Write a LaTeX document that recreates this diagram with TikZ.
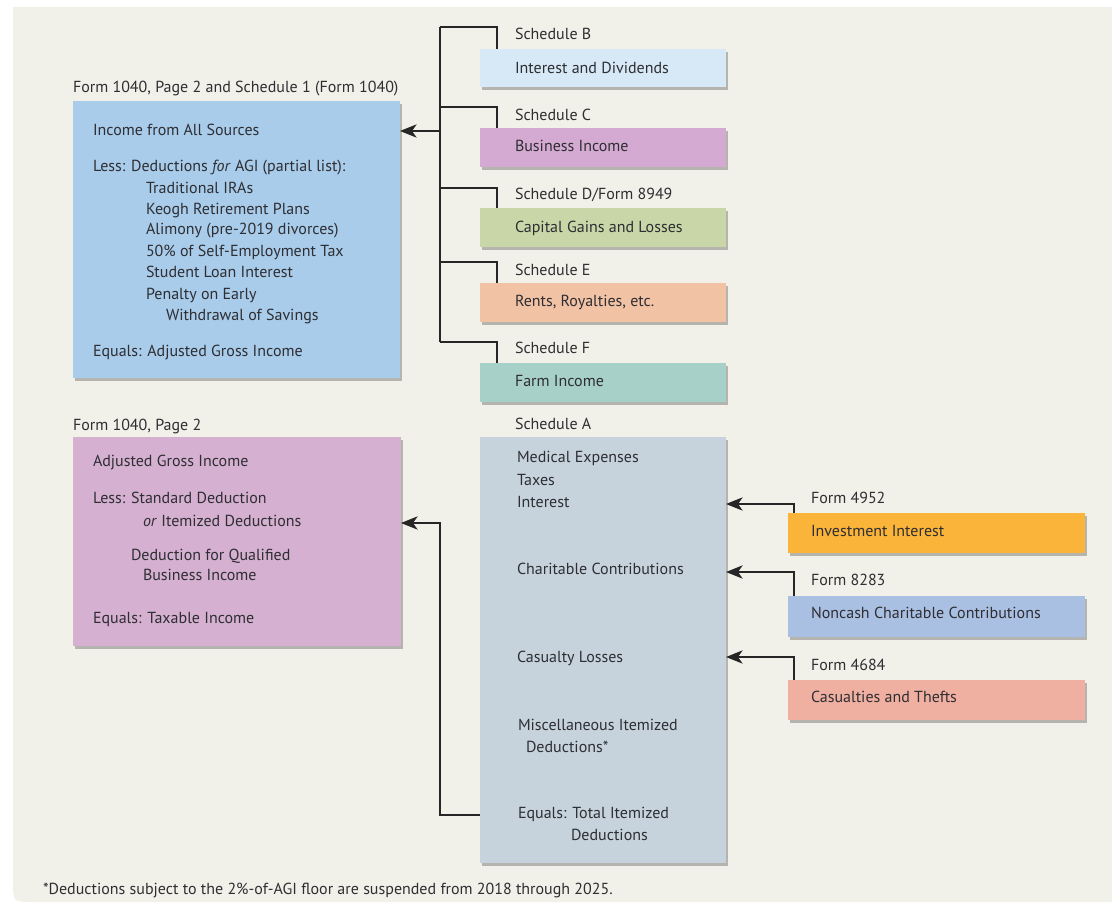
\documentclass[tikz,border=0pt]{standalone}
\usepackage{fontspec}
\setmainfont{PT Sans}
\usetikzlibrary{arrows.meta,shadows,fit,calc}
\definecolor{bgc}{HTML}{F2F1E9}
\definecolor{txtc}{HTML}{2E2E33}
\definecolor{cIncome}{HTML}{A8CCEA}
\definecolor{cTaxable}{HTML}{D5B0D1}
\definecolor{cB}{HTML}{D7E8F6}
\definecolor{cC}{HTML}{D4AAD2}
\definecolor{cD}{HTML}{C9D6A7}
\definecolor{cE}{HTML}{F2C2A5}
\definecolor{cF}{HTML}{A7D0C8}
\definecolor{cA}{HTML}{C6D3DD}
\definecolor{cInv}{HTML}{FBB43A}
\definecolor{cNon}{HTML}{AAC0E3}
\definecolor{cCas}{HTML}{F0B0A1}
\begin{document}
\begin{tikzpicture}[x=0.75pt,y=-0.75pt,
  box/.style={inner sep=0pt, outer sep=0pt,
    drop shadow={shadow xshift=1.8pt, shadow yshift=-2pt, opacity=0.25, fill=black}},
  txt/.style={anchor=mid west, inner sep=0pt, outer sep=0pt, text=txtc,
    font=\fontsize{12}{14}\selectfont},
  conn/.style={line width=1pt, draw=black!85},
  arr/.style={conn, -{Stealth[length=12.5pt, width=10pt, inset=3.5pt]}}]
\useasboundingbox (0,0) rectangle (1112,902);
% background panel
\fill[bgc] (13,7) -- (1112,7) -- (1112,902) -- (33,902) .. controls (13,902) .. (13,882) -- cycle;

% ---- top-left box
\node[txt] (t1) at (73,89) {Form 1040, Page 2 and Schedule 1 (Form 1040)};
\node[box, fill=cIncome, fit={(73,101) (400,378)}] (incomeBox) {};
\node[txt] (i1) at (93,132) {Income from All Sources};
\node[txt] (i2) at (93,168) {Less: Deductions \textit{for} AGI (partial list):};
\node[txt] (i3) at (146,190) {Traditional IRAs};
\node[txt] (i4) at (146,211) {Keogh Retirement Plans};
\node[txt] (i5) at (146,231) {Alimony (pre-2019 divorces)};
\node[txt] (i6) at (146,253) {50\% of Self-Employment Tax};
\node[txt] (i7) at (146,274) {Student Loan Interest};
\node[txt] (i8) at (146,296) {Penalty on Early};
\node[txt] (i9) at (166,317) {Withdrawal of Savings};
\node[txt] (i10) at (93,353) {Equals: Adjusted Gross Income};

% ---- schedules
\node[txt] (lB) at (515,36) {Schedule B};
\node[box, fill=cB, fit={(480,49) (726,87)}] (schB) {};
\node[txt] (xB) at (515,70) {Interest and Dividends};
\node[txt] (lC) at (515,117) {Schedule C};
\node[box, fill=cC, fit={(480,128) (726,167)}] (schC) {};
\node[txt] (xC) at (515,148) {Business Income};
\node[txt] (lD) at (515,196) {Schedule D/Form 8949};
\node[box, fill=cD, fit={(480,208) (726,247)}] (schD) {};
\node[txt] (xD) at (515,229) {Capital Gains and Losses};
\node[txt] (lE) at (515,272) {Schedule E};
\node[box, fill=cE, fit={(480,283) (726,322)}] (schE) {};
\node[txt] (xE) at (515,303) {Rents, Royalties, etc.};
\node[txt] (lF) at (515,350) {Schedule F};
\node[box, fill=cF, fit={(480,363) (726,402)}] (schF) {};
\node[txt] (xF) at (515,383) {Farm Income};

% tree connectors
\coordinate (jB) at (440,27);
\coordinate (jC) at (440,107);
\coordinate (jD) at (440,188);
\coordinate (jE) at (440,262);
\coordinate (jF) at (440,342);
\coordinate (jI) at (440,131);
\coordinate (dx) at (497,0);
\draw[conn] (schB.north -| dx) |- (jB);
\draw[conn] (schC.north -| dx) |- (jC);
\draw[conn] (schD.north -| dx) |- (jD);
\draw[conn] (schE.north -| dx) |- (jE);
\draw[conn] (schF.north -| dx) |- (jF);
\draw[conn] (jB) -- (jF);
\draw[arr] (jI) -- (incomeBox.east |- jI);

% ---- bottom-left box
\node[txt] (t2) at (73,427) {Form 1040, Page 2};
\node[box, fill=cTaxable, fit={(73,437) (401,646)}] (taxBox) {};
\node[txt] (p1) at (93,463) {Adjusted Gross Income};
\node[txt] (p2) at (93,500) {Less: Standard Deduction};
\node[txt] (p3) at (143,523) {\textit{or} Itemized Deductions};
\node[txt] (p4) at (131,557) {Deduction for Qualified};
\node[txt] (p5) at (143,577) {Business Income};
\node[txt] (p6) at (93,620) {Equals: Taxable Income};

% ---- schedule A
\node[txt] (lA) at (515,426) {Schedule A};
\node[box, fill=cA, fit={(480,437) (726,863)}] (schA) {};
\node[txt] (a1) at (517,459) {Medical Expenses};
\node[txt] (a2) at (517,482) {Taxes};
\node[txt] (a3) at (517,504) {Interest};
\node[txt] (a4) at (517,571) {Charitable Contributions};
\node[txt] (a5) at (517,659) {Casualty Losses};
\node[txt] (a6) at (518,727) {Miscellaneous Itemized};
\node[txt] (a7) at (526,749) {Deductions*};
\node[txt] (a8) at (518,815) {Equals: Total Itemized};
\node[txt] (a9) at (571,837) {Deductions};

\coordinate (jA) at (440,815);
\coordinate (jP) at (440,523);
\draw[arr] (schA.west |- jA) -- (jA) -- (jP) -- (taxBox.east |- jP);

% ---- right forms
\node[txt] (l1) at (811,500) {Form 4952};
\node[box, fill=cInv, fit={(788,513) (1085,553)}] (f1) {};
\node[txt] (y1) at (811,533) {Investment Interest};
\node[txt] (l2) at (811,582) {Form 8283};
\node[box, fill=cNon, fit={(788,596) (1085,637)}] (f2) {};
\node[txt] (y2) at (811,615) {Noncash Charitable Contributions};
\node[txt] (l3) at (811,667) {Form 4684};
\node[box, fill=cCas, fit={(788,680) (1085,720)}] (f3) {};
\node[txt] (y3) at (811,699) {Casualties and Thefts};

\coordinate (k1) at (794,504);
\coordinate (k2) at (794,572);
\coordinate (k3) at (794,657);
\draw[arr] (f1.north -| k1) -- (k1) -- (schA.east |- k1);
\draw[arr] (f2.north -| k2) -- (k2) -- (schA.east |- k2);
\draw[arr] (f3.north -| k3) -- (k3) -- (schA.east |- k3);

% footnote
\node[txt] (fn) at (43,891) {*Deductions subject to the 2\%-of-AGI floor are suspended from 2018 through 2025.};
\end{tikzpicture}
\end{document}
